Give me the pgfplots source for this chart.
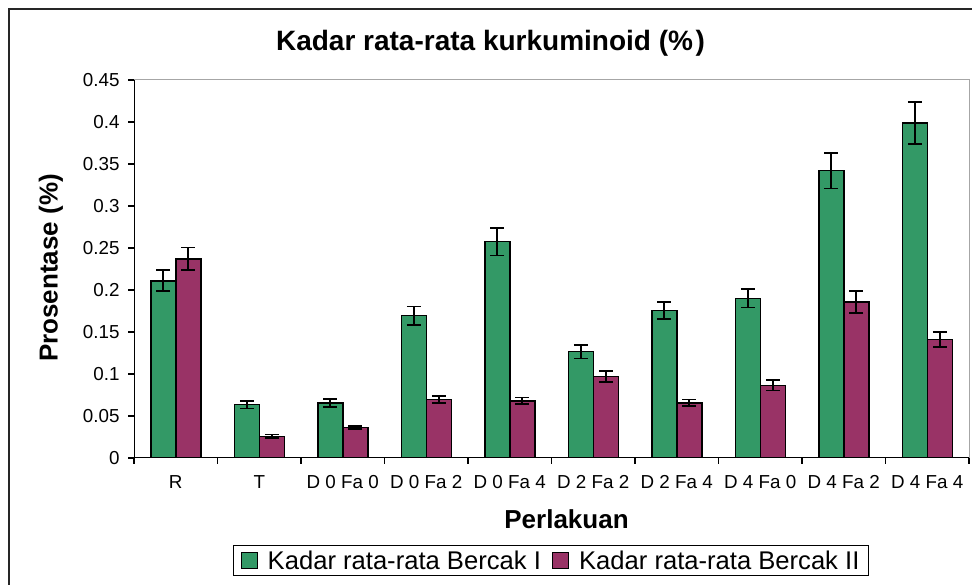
\documentclass[border=0pt]{standalone}
\usepackage{pgfplots}
\pgfplotsset{compat=1.18}
\usepackage{fontspec}
\setmainfont{Liberation Sans}
\definecolor{cgreen}{RGB}{51,153,102}
\definecolor{cpurple}{RGB}{153,51,102}
\begin{document}
\begin{tikzpicture}[x=1pt,y=1pt]
\useasboundingbox (0,0) rectangle (972,585);
\clip (0,0) rectangle (972,585);
\fill[white] (0,0) rectangle (972,585);
\draw[line width=1.5pt, black!85] (9,-30) rectangle (1000,576);
\begin{axis}[
  at={(134pt,127pt)}, anchor=south west, scale only axis,
  width=835pt, height=378pt,
  xmin=-0.5, xmax=9.5, ymin=0, ymax=0.45,
  ybar=0pt, bar width=25pt,
  axis line style={draw=gray!70, line width=1pt},
  xtick={-0.5,0.5,...,9.5},
  x tick label as interval=true,
  xticklabels={R,T,D 0 Fa 0,D 0 Fa 2,D 0 Fa 4,D 2 Fa 2,D 2 Fa 4,D 4 Fa 0,D 4 Fa 2,D 4 Fa 4},
  ytick={0,0.05,0.1,0.15,0.2,0.25,0.3,0.35,0.4,0.45},
  yticklabels={0,0.05,0.1,0.15,0.2,0.25,0.3,0.35,0.4,0.45},
  scaled ticks=false,
  tick align=outside, tick pos=left,
  major tick length=6pt,
  tick style={draw=black, line width=1.2pt},
  ticklabel style={font=\fontsize{18.8}{22}\selectfont},
  xticklabel style={yshift=-8pt},
  yticklabel style={xshift=-5pt},
  legend columns=2,
  legend style={at={(axis description cs:0.1186,-0.2302)}, anchor=north west,
    draw=black, line width=1pt, font=\fontsize{25.6}{30}\selectfont,
    inner xsep=7pt, inner ysep=3pt,
    /tikz/every odd column/.append style={column sep=8pt},
    /tikz/every even column/.append style={column sep=9pt}},
  error bars/y dir=both, error bars/y explicit,
  error bars/error bar style={line width=1.7pt, black},
  error bars/error mark options={rotate=90, mark size=6.8pt, line width=1.7pt, black},
]
\addplot[fill=cgreen, draw=black, line width=1.5pt,
  legend image code/.code={\draw[fill=cgreen, draw=black, line width=1.2pt] (0pt,-8pt) rectangle (16pt,8pt);}]
  coordinates {
  (0,0.211) +- (0,0.0125)
  (1,0.0635) +- (0,0.0045)
  (2,0.0655) +- (0,0.0045)
  (3,0.1694) +- (0,0.011)
  (4,0.2575) +- (0,0.0165)
  (5,0.1266) +- (0,0.008)
  (6,0.1754) +- (0,0.010)
  (7,0.190) +- (0,0.011)
  (8,0.342) +- (0,0.021)
  (9,0.399) +- (0,0.025)
  };
\addlegendentry{Kadar rata-rata Bercak I}
\addplot[fill=cpurple, draw=black, line width=1.5pt,
  legend image code/.code={\draw[fill=cpurple, draw=black, line width=1.2pt] (0pt,-8pt) rectangle (16pt,8pt);}]
  coordinates {
  (0,0.237) +- (0,0.0135)
  (1,0.0258) +- (0,0.002)
  (2,0.0365) +- (0,0.002)
  (3,0.0698) +- (0,0.004)
  (4,0.0679) +- (0,0.004)
  (5,0.0968) +- (0,0.0065)
  (6,0.0655) +- (0,0.004)
  (7,0.0865) +- (0,0.006)
  (8,0.1857) +- (0,0.013)
  (9,0.1413) +- (0,0.009)
  };
\addlegendentry{Kadar rata-rata Bercak II}
\draw[black, line width=1.4pt] (rel axis cs:0,1) -- (rel axis cs:0,0) -- (rel axis cs:1,0);
\end{axis}
\node[font=\bfseries\fontsize{28}{32}\selectfont] at (490.5,542) {Kadar rata-rata kurkuminoid (\%\hspace{2.5pt})};
\node[font=\bfseries\fontsize{26}{30}\selectfont] at (566.5,65.3) {Perlakuan};
\node[font=\bfseries\fontsize{26}{30}\selectfont, rotate=90] at (51,317) {Prosentase (\%)};
\end{tikzpicture}
\end{document}
